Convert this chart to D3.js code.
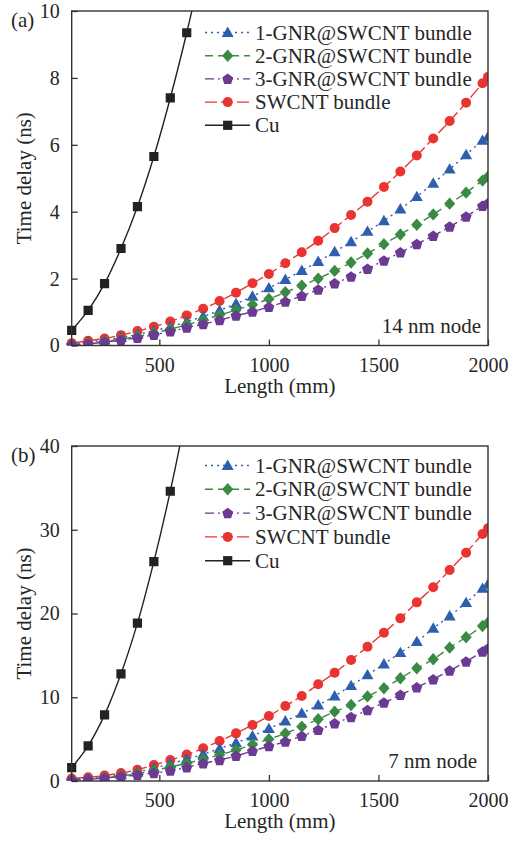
<!DOCTYPE html>
<html>
<head>
<meta charset="utf-8">
<script src="https://cdn.jsdelivr.net/npm/d3@7"></script>
<style>
  body { margin: 0; background: #fff; }
  svg text { font-family: "Liberation Serif", "Tinos", "Times New Roman", "DejaVu Serif", serif; fill: #262626; }
</style>
</head>
<body>
<svg id="chart" width="516" height="841"></svg>
<script>
// lengths (mm) for the CNT series, step 75 plus the 2000 end point
const lengths = [100,175,250,325,400,475,550,625,700,775,850,925,1000,1075,1150,1225,1300,1375,1450,1525,1600,1675,1750,1825,1900,1975,2000];
const cuLengths = [100,175,250,325,400,475,550,625,700];

// 14 nm node (ns)
const gnr1_14 = [0.05,0.10,0.16,0.24,0.33,0.44,0.56,0.71,0.87,1.05,1.25,1.47,1.72,1.97,2.24,2.51,2.80,3.10,3.41,3.73,4.08,4.45,4.85,5.27,5.70,6.13,6.24];
const gnr2_14 = [0.03,0.07,0.12,0.19,0.27,0.37,0.49,0.62,0.76,0.91,1.06,1.22,1.39,1.59,1.79,2.00,2.23,2.48,2.75,3.03,3.32,3.61,3.92,4.24,4.57,4.93,5.05];
const gnr3_14 = [0.02,0.05,0.10,0.16,0.23,0.32,0.42,0.53,0.64,0.76,0.89,1.01,1.15,1.31,1.48,1.67,1.86,2.06,2.29,2.54,2.78,3.03,3.28,3.55,3.85,4.17,4.25];
const swcnt14 = [0.07,0.14,0.21,0.31,0.43,0.56,0.72,0.90,1.10,1.33,1.58,1.86,2.14,2.46,2.79,3.13,3.51,3.90,4.30,4.74,5.20,5.68,6.19,6.71,7.26,7.84,8.03];
const cu14 = [0.45,1.05,1.85,2.9,4.15,5.65,7.4,9.35,11.5];

// 7 nm node (ns)
const gnr1_7 = [0.2,0.3,0.48,0.72,1.05,1.55,2.05,2.6,3.2,3.88,4.55,5.37,6.25,7.16,8.08,9.07,10.15,11.38,12.66,13.97,15.32,16.63,18.23,19.70,21.29,23.0,23.5];
const gnr2_7 = [0.15,0.25,0.4,0.6,0.88,1.25,1.68,2.12,2.6,3.12,3.7,4.35,5.0,5.69,6.49,7.37,8.28,9.07,10.1,11.07,12.26,13.46,14.53,15.92,17.16,18.51,18.9];
const gnr3_7 = [0.1,0.2,0.35,0.52,0.72,0.95,1.23,1.63,2.11,2.5,2.99,3.58,4.15,4.69,5.37,6.09,6.89,7.61,8.45,9.35,10.27,11.19,12.14,13.17,14.25,15.44,15.8];
const swcnt7 = [0.3,0.45,0.65,0.95,1.35,1.9,2.5,3.15,3.9,4.78,5.69,6.69,7.76,8.96,10.15,11.55,12.93,14.45,16.04,17.71,19.42,21.33,23.13,25.19,27.26,29.49,30.17];
const cu7 = [1.6,4.2,7.9,12.8,18.85,26.2,34.6,44.2,55];

const seriesNames = ["1-GNR@SWCNT bundle","2-GNR@SWCNT bundle","3-GNR@SWCNT bundle","SWCNT bundle","Cu"];
const xTicks = [500,1000,1500,2000];

// styles per series
const styles = [
  {color:"#2d5fae", dash:"2,4",       marker:"triangle"},
  {color:"#3b8a44", dash:"8,5",       marker:"diamond"},
  {color:"#6b3a93", dash:"9,4,2,4",   marker:"pentagon"},
  {color:"#ea3432", dash:"12,4",      marker:"circle"},
  {color:"#222222", dash:null,        marker:"square"}
];
const serif = "Liberation Serif, Tinos, Times New Roman, DejaVu Serif, serif";

function markerPath(type){
  switch(type){
    case "triangle": return "M0,-6L6,4.4L-6,4.4Z";
    case "diamond":  return "M0,-6.2L5.6,0L0,6.2L-5.6,0Z";
    case "square":   return "M-4.6,-4.6H4.6V4.6H-4.6Z";
    case "circle":   return "M5,0A5,5 0 1,1 -5,0A5,5 0 1,1 5,0Z";
    case "pentagon": {
      const p = d3.range(5).map(k => {
        const a = -Math.PI/2 + k*2*Math.PI/5;
        return [5.8*Math.cos(a), 5.8*Math.sin(a)+0.4];
      });
      return "M" + p.map(q => q.join(",")).join("L") + "Z";
    }
  }
}

const svg = d3.select("#chart");
const left = 71.7, right = 488;

function drawPanel(cfg){
  const x = d3.scaleLinear().domain([100,2000]).range([left,right]);
  const y = d3.scaleLinear().domain([0,cfg.ymax]).range([cfg.bottom,cfg.top]);
  const g = svg.append("g");

  const clipId = "clip" + cfg.id;
  svg.append("clipPath").attr("id", clipId)
    .append("rect")
    .attr("x", left-8).attr("y", cfg.top)
    .attr("width", right-left+8).attr("height", cfg.bottom-cfg.top);

  const plot = g.append("g").attr("clip-path", `url(#${clipId})`);

  const line = d3.line().x(d=>x(d[0])).y(d=>y(d[1])).curve(d3.curveCatmullRom);

  const data = cfg.series.map((vals,i) => {
    const xs = i===4 ? cuLengths : lengths;
    return xs.map((L,j) => [L, vals[j]]);
  });

  // draw in reverse so 1-GNR lands on top
  [3,0,1,2,4].forEach(i => {
    const st = styles[i];
    plot.append("path")
      .attr("d", line(data[i]))
      .attr("fill","none")
      .attr("stroke", st.color)
      .attr("stroke-width", 1.4)
      .attr("stroke-dasharray", st.dash);
    plot.selectAll(null)
      .data(data[i])
      .join("path")
      .attr("transform", d=>`translate(${x(d[0])},${y(d[1])})`)
      .attr("d", markerPath(st.marker))
      .attr("fill", st.color);
  });

  // axes
  const xAxis = d3.axisBottom(x).tickValues(xTicks).tickFormat(d3.format("d"))
    .tickSizeInner(-6).tickSizeOuter(0).tickPadding(12);
  const yAxis = d3.axisLeft(y).tickValues(cfg.yTicks).tickFormat(d3.format("d"))
    .tickSizeInner(-6).tickSizeOuter(0).tickPadding(12);

  const gx = g.append("g").attr("transform",`translate(0,${cfg.bottom})`).call(xAxis);
  const gy = g.append("g").attr("transform",`translate(${left},0)`).call(yAxis);
  [gx,gy].forEach(a => {
    a.attr("font-family", serif).attr("font-size", 20);
    a.select(".domain").remove();
    a.selectAll(".tick line").attr("stroke","#333").attr("stroke-width",1.3);
    a.selectAll(".tick text").attr("fill","#262626");
  });

  // frame
  g.append("rect")
    .attr("x", left).attr("y", cfg.top)
    .attr("width", right-left).attr("height", cfg.bottom-cfg.top)
    .attr("fill","none").attr("stroke","#333").attr("stroke-width",1.4);

  // titles
  g.append("text")
    .attr("x", (left+right)/2).attr("y", cfg.bottom+47)
    .attr("text-anchor","middle").attr("font-size",21)
    .text("Length (mm)");
  g.append("text")
    .attr("transform", `translate(31,${(cfg.top+cfg.bottom)/2}) rotate(-90)`)
    .attr("text-anchor","middle").attr("font-size",21)
    .text("Time delay (ns)");
  g.append("text")
    .attr("x", 11).attr("y", cfg.top+16)
    .attr("font-size",21)
    .text(cfg.label);
  g.append("text")
    .attr("x", cfg.nodeX).attr("y", cfg.bottom-13)
    .attr("text-anchor","end").attr("font-size",21)
    .text(cfg.node);

  // legend
  const leg = g.append("g");
  seriesNames.forEach((name,i) => {
    const ly = cfg.legendTop + i*cfg.legendStep;
    const st = styles[i];
    leg.append("line")
      .attr("x1",205).attr("x2",250).attr("y1",ly).attr("y2",ly)
      .attr("stroke",st.color).attr("stroke-width",1.4)
      .attr("stroke-dasharray",st.dash);
    leg.append("path")
      .attr("transform",`translate(227.7,${ly})`)
      .attr("d",markerPath(st.marker))
      .attr("fill",st.color);
    leg.append("text")
      .attr("x",255).attr("y",ly+7)
      .attr("font-size",21)
      .text(name);
  });
}

drawPanel({
  id:"a", top:11, bottom:345.5, ymax:10, yTicks:[0,2,4,6,8,10],
  series:[gnr1_14,gnr2_14,gnr3_14,swcnt14,cu14],
  label:"(a)", node:"14 nm node", nodeX:481,
  legendTop:32.5, legendStep:23.2
});
drawPanel({
  id:"b", top:446, bottom:781, ymax:40, yTicks:[0,10,20,30,40],
  series:[gnr1_7,gnr2_7,gnr3_7,swcnt7,cu7],
  label:"(b)", node:"7 nm node", nodeX:477,
  legendTop:465.5, legendStep:23.8
});
</script>
</body>
</html>
